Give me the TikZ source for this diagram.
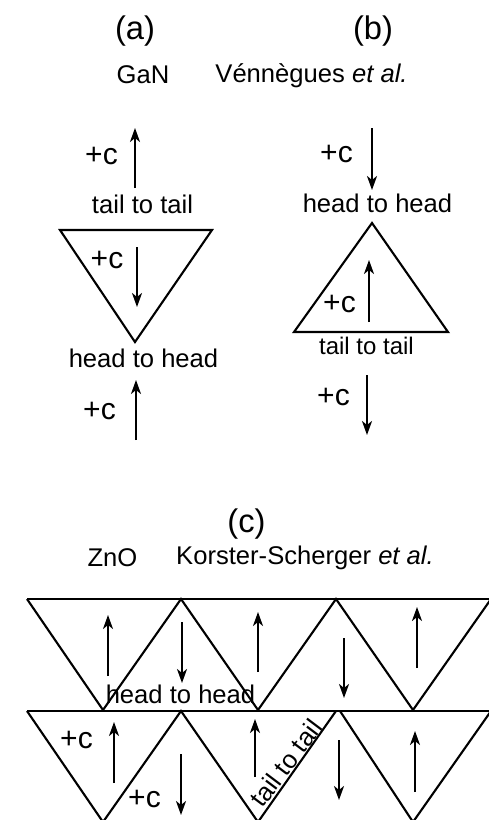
\documentclass[tikz,border=0pt]{standalone}
\usepackage{fontspec}
\setmainfont{Liberation Sans}
\usetikzlibrary{arrows.meta}
\begin{document}
\begin{tikzpicture}[x=1pt,y=-1pt,
  txt/.style={anchor=base,inner sep=0pt,font=\fontsize{25.6}{30}\selectfont},
  pc/.style={anchor=base,inner sep=0pt,font=\fontsize{30}{36}\selectfont},
  lab/.style={anchor=base,inner sep=0pt,font=\fontsize{32.7}{38}\selectfont},
  vec/.style={line width=2.1pt,-{Stealth[length=14pt,width=10pt,inset=4pt]}},
  tri/.style={line width=2.1pt,line join=miter}]
\fill[white] (0,0) rectangle (488,820);
\useasboundingbox (0,0) rectangle (488,820);
% headers
\node[lab] (la) at (135,39) {(a)};
\node[lab] (lb) at (373,39) {(b)};
\node[txt] (gan) at (143,83) {GaN};
\node[txt] (ven) at (311.5,82) {Vénnègues \emph{et al.}};
% panel (a)
\node[pc] (a1) at (101.5,164) {+c};
\draw[vec] (135,188) -- (135,128);
\node[txt] (a2) at (142.5,213) {tail to tail};
\draw[tri] (60,230) -- (212,230) -- (135,342) -- cycle;
\node[pc] (a3) at (107,268) {+c};
\draw[vec] (137,247) -- (137,307);
\node[txt] (a4) at (143.5,367) {head to head};
\node[pc] (a5) at (99.5,419) {+c};
\draw[vec] (136,440) -- (136,380);
% panel (b)
\node[pc] (b1) at (336.5,162) {+c};
\draw[vec] (372,128) -- (372,190);
\node[txt] (b2) at (377.5,212) {head to head};
\draw[tri] (372,223) -- (448,332) -- (294,332) -- cycle;
\node[pc] (b3) at (339.5,312) {+c};
\draw[vec] (369,322) -- (369,260);
\node[txt,font=\fontsize{24}{28}\selectfont] (b4) at (366.5,354) {tail to tail};
\node[pc] (b5) at (333.5,405) {+c};
\draw[vec] (367,375) -- (367,435);
% panel (c)
\node[lab] (lc) at (246.5,532) {(c)};
\node[txt] (zno) at (112.5,566) {ZnO};
\node[txt] (kor) at (305,564) {Korster-Scherger \emph{et al.}};
% row 1
\draw[tri] (27,599) -- (495,599);
\draw[tri] (27,599) -- (103,710) -- (181,599) -- (258,710) -- (336,599) -- (413,710) -- (491,599);
% row 2
\draw[tri] (27,711) -- (495,711);
\draw[tri] (27,711) -- (103,822) -- (181,711) -- (258,822) -- (336,711);
\draw[tri] (340,711) -- (413,822) -- (491,711);
% arrows row 1
\draw[vec] (108,676) -- (108,615);
\draw[vec] (182,622) -- (182,683);
\draw[vec] (258,672) -- (258,612);
\draw[vec] (344,638) -- (344,698);
\draw[vec] (417,668) -- (417,607);
% arrows row 2
\draw[vec] (114,783) -- (114,722);
\draw[vec] (181,754) -- (181,815);
\draw[vec] (255,777) -- (255,719);
\draw[vec] (339,740) -- (339,800);
\draw[vec] (415,792) -- (415,731);
% labels (c)
\node[txt] (c1) at (180.5,703) {head to head};
\node[pc] (c2) at (76.5,748) {+c};
\node[pc] (c3) at (144.5,807) {+c};
\node[txt,anchor=center,rotate=53] (c4) at (286,763) {tail to tail};
\end{tikzpicture}
\end{document}
